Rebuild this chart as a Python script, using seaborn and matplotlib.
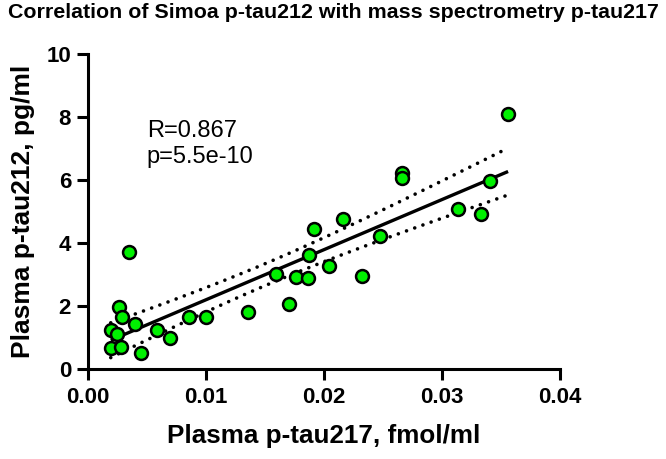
import numpy as np
import pandas as pd
import matplotlib
matplotlib.use("Agg")
import matplotlib.pyplot as plt
import seaborn as sns

# ---- data ----
ptau217 = [0.00195, 0.00246, 0.00268, 0.00288, 0.00195, 0.00279, 0.00352, 0.0040,
           0.00449, 0.00584, 0.00697, 0.0086, 0.0100, 0.01355, 0.01594, 0.01707,
           0.01761, 0.01868, 0.01876, 0.01919, 0.02046, 0.02159, 0.0232, 0.02475,
           0.0266, 0.02664, 0.03138, 0.03328, 0.0341, 0.0356]
ptau212 = [1.24, 1.10, 1.98, 1.66, 0.66, 0.69, 3.70, 1.42,
           0.50, 1.24, 0.97, 1.64, 1.64, 1.82, 3.02, 2.06,
           2.93, 2.88, 3.62, 4.44, 3.28, 4.76, 2.95, 4.23,
           6.21, 6.05, 5.08, 4.92, 5.97, 8.10]
x_ticks = [0.00, 0.01, 0.02, 0.03, 0.04]
x_tick_labels = ["0.00", "0.01", "0.02", "0.03", "0.04"]
y_ticks = [0, 2, 4, 6, 8, 10]
title = "Correlation of Simoa p-tau212 with mass spectrometry p-tau217"
xlabel = "Plasma p-tau217, fmol/ml"
ylabel = "Plasma p-tau212, pg/ml"
stat_lines = ["R=0.867", "p=5.5e-10"]

df = pd.DataFrame({"x": ptau217, "y": ptau212})

sns.set_theme(style="ticks")
plt.rcParams["font.family"] = ["Liberation Sans", "DejaVu Sans"]

fig = plt.figure(figsize=(6.66, 4.59), dpi=100)
ax = fig.add_axes([0.1317, 0.1961, 0.7092, 0.6863])

# regression line
sns.regplot(data=df, x="x", y="y", ax=ax, scatter=False, ci=None, truncate=True,
            line_kws=dict(color="black", lw=2.4, solid_capstyle="butt", zorder=2))

# 95% confidence band of the fit, as dotted lines
xa = np.asarray(ptau217); ya = np.asarray(ptau212)
n = len(xa)
b, a = np.polyfit(xa, ya, 1)
resid = ya - (a + b * xa)
s = np.sqrt(np.sum(resid ** 2) / (n - 2))
xg = np.linspace(xa.min(), xa.max(), 200)
se = s * np.sqrt(1 / n + (xg - xa.mean()) ** 2 / np.sum((xa - xa.mean()) ** 2))
tcrit = 2.048
yfit = a + b * xg
for band in (yfit + tcrit * se, yfit - tcrit * se):
    ax.plot(xg, band, color="black", lw=2.6, linestyle=(0, (0.01, 2.4)),
            dash_capstyle="round", zorder=2)

sns.scatterplot(data=df, x="x", y="y", ax=ax, s=86, color="#00f000",
                edgecolor="black", linewidth=1.8, zorder=3, clip_on=False)

ax.set_xlim(0, 0.04)
ax.set_ylim(0, 10)
ax.set_xticks(x_ticks)
ax.set_xticklabels(x_tick_labels)
ax.set_yticks(y_ticks)
for sp in ["top", "right"]:
    ax.spines[sp].set_visible(False)
for sp in ["left", "bottom"]:
    ax.spines[sp].set_linewidth(2.2)
    ax.spines[sp].set_color("black")
ax.tick_params(axis="both", direction="out", length=8, width=2.2, color="black",
               labelsize=16, labelcolor="black")
ax.tick_params(axis="x", pad=5)
ax.tick_params(axis="y", pad=4)
for lab in ax.get_xticklabels() + ax.get_yticklabels():
    lab.set_fontweight("bold")

ax.set_xlabel(xlabel, fontsize=18.7, fontweight="bold", color="black")
ax.set_ylabel(ylabel, fontsize=19, fontweight="bold", color="black")
ax.xaxis.set_label_coords(0.5, -0.175)
ax.yaxis.set_label_coords(-0.112, 0.5)

ax.text(0.125, 0.7375, stat_lines[0], transform=ax.transAxes, fontsize=17,
        va="baseline", ha="left", color="black")
ax.text(0.125, 0.653, stat_lines[1], transform=ax.transAxes, fontsize=17,
        va="baseline", ha="left", color="black")

fig.text(0.5, 1 - 18.3 / 459, title, ha="center", va="baseline",
         fontsize=15.4, fontweight="bold", color="black")

fig.savefig("out.png", dpi=100)
